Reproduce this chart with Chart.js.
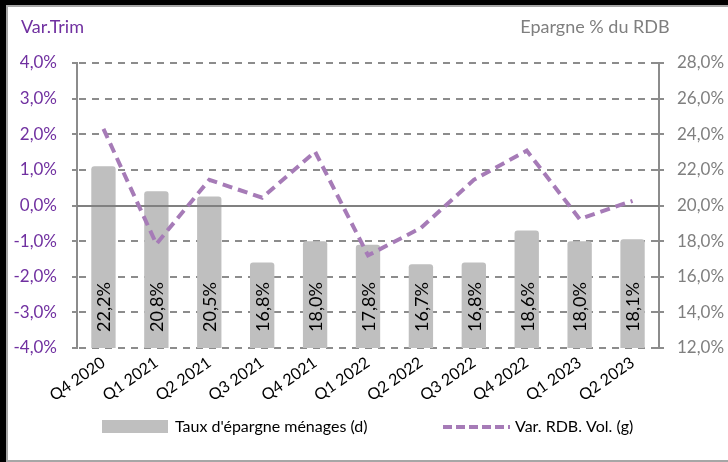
<!DOCTYPE html>
<html>
<head>
<meta charset="utf-8">
<script src="https://cdn.jsdelivr.net/npm/chart.js@4.4.1/dist/chart.umd.min.js"></script>
<style>
html, body { margin: 0; padding: 0; background: #fff; }
#wrap { position: relative; width: 728px; height: 462px; overflow: hidden; }
#frame { position: absolute; left: 0; top: 0; width: 728px; height: 462px; box-sizing: border-box;
         border-top: 5px solid #000; border-left: 6px solid #000; pointer-events: none; }
#frame div { position: absolute; left: 0; top: 0; right: -4px; bottom: 0;
             border-top: 2px solid #a6a6a6; border-left: 2px solid #a6a6a6; border-bottom: 2px solid #a6a6a6; }
canvas { position: absolute; left: 0; top: 0; }
</style>
</head>
<body>
<div id="wrap">
  <canvas id="chart" width="728" height="462"></canvas>
  <div id="frame"><div></div></div>
</div>
<script>
var quarters = ['Q4 2020', 'Q1 2021', 'Q2 2021', 'Q3 2021', 'Q4 2021', 'Q1 2022',
                'Q2 2022', 'Q3 2022', 'Q4 2022', 'Q1 2023', 'Q2 2023'];
var savingsRate = [22.2, 20.8, 20.5, 16.8, 18.0, 17.8, 16.7, 16.8, 18.6, 18.0, 18.1];
var rdbVolume = [2.15, -1.08, 0.72, 0.22, 1.51, -1.40, -0.63, 0.72, 1.54, -0.38, 0.13];

var leftTitle = 'Var.Trim';
var rightTitle = 'Epargne % du RDB';

var FONT = 'Lato';
var GRID = '#8c8c8c';

function pct(v) {
    return v.toFixed(1).replace('.', ',') + '%';
}

var plugins = [{
    id: 'extras',
    beforeDatasetsDraw: chart => {
        // dashed grid lines + outer tick marks, from the left axis ticks
        let ctx = chart.ctx;
        let yAxis = chart.scales.y;
        let area = chart.chartArea;
        ctx.save();
        ctx.lineWidth = 2;
        ctx.strokeStyle = GRID;
        ctx.lineCap = 'butt';
        yAxis.ticks.forEach((t, i) => {
            let y = Math.round(yAxis.getPixelForTick(i));
            ctx.setLineDash([]);
            ctx.beginPath();
            ctx.moveTo(area.left - 5, y);
            ctx.lineTo(area.left, y);
            ctx.moveTo(area.right, y);
            ctx.lineTo(area.right + 5, y);
            ctx.stroke();
            if (t.value === 0) return;
            ctx.setLineDash([7, 6]);
            ctx.beginPath();
            ctx.moveTo(area.left + 2, y);
            ctx.lineTo(area.right - 1, y);
            ctx.stroke();
        });
        ctx.restore();
    },
    beforeDatasetDraw: (chart, args) => {
        // solid zero line, over the bars but under the dashed line
        if (args.index !== 1) return;
        let ctx = chart.ctx;
        let y = Math.round(chart.scales.y.getPixelForValue(0));
        ctx.save();
        ctx.beginPath();
        ctx.moveTo(chart.chartArea.left, y);
        ctx.lineTo(chart.chartArea.right, y);
        ctx.lineWidth = 2;
        ctx.strokeStyle = '#808080';
        ctx.stroke();
        ctx.restore();
    },
    afterDatasetsDraw: chart => {
        // rotated value labels inside the bars
        let ctx = chart.ctx;
        let meta = chart.getDatasetMeta(0);
        let base = chart.scales.y1.getPixelForValue(12);
        ctx.save();
        ctx.font = '18px ' + FONT;
        ctx.fillStyle = '#000';
        ctx.textAlign = 'left';
        ctx.textBaseline = 'middle';
        meta.data.forEach((bar, i) => {
            let p = bar.getProps(['x'], true);
            ctx.save();
            ctx.translate(p.x + 1, base - 16);
            ctx.rotate(-Math.PI / 2);
            ctx.fillText(pct(savingsRate[i]), 0, 0);
            ctx.restore();
        });
        ctx.restore();
    },
    afterDraw: chart => {
        let ctx = chart.ctx;
        ctx.save();
        // axis titles
        ctx.font = '18px ' + FONT;
        ctx.textBaseline = 'alphabetic';
        ctx.fillStyle = '#7030A0';
        ctx.textAlign = 'left';
        ctx.fillText(leftTitle, 21, 33);
        ctx.fillStyle = '#7F7F7F';
        ctx.textAlign = 'center';
        ctx.fillText(rightTitle, 595, 33);

        // legend
        let ds = chart.data.datasets;
        let ly = 427;
        ctx.font = '16px ' + FONT;
        ctx.textAlign = 'left';
        ctx.textBaseline = 'middle';
        ctx.fillStyle = ds[0].backgroundColor;
        ctx.fillRect(102, ly - 7, 66, 13);
        ctx.fillStyle = '#000';
        ctx.fillText(ds[0].label, 175, ly);

        ctx.beginPath();
        ctx.setLineDash([9, 4]);
        ctx.moveTo(443, ly);
        ctx.lineTo(510, ly);
        ctx.lineWidth = ds[1].borderWidth;
        ctx.strokeStyle = ds[1].borderColor;
        ctx.stroke();
        ctx.setLineDash([]);
        ctx.fillText(ds[1].label, 515, ly);
        ctx.restore();
    }
}];

var options = {
    responsive: false,
    animation: false,
    devicePixelRatio: 1,
    layout: {
        padding: {top: 63, left: 0, right: 0, bottom: 0}
    },
    plugins: {
        legend: {display: false},
        tooltip: {enabled: false}
    },
    scales: {
        x: {
            type: 'category',
            offset: true,
            grid: {display: false, drawTicks: false},
            border: {display: false},
            ticks: {
                color: '#000',
                font: {family: FONT, size: 16},
                maxRotation: 35,
                minRotation: 35,
                padding: 5
            },
            afterFit: scale => { scale.height = 114; }
        },
        y: {
            position: 'left',
            min: -4,
            max: 4,
            ticks: {
                stepSize: 1,
                color: '#7030A0',
                font: {family: FONT, size: 17},
                padding: 20,
                callback: v => pct(v)
            },
            grid: {display: false, drawTicks: false},
            border: {display: true, color: GRID, width: 2},
            afterFit: scale => { scale.width = 77; }
        },
        y1: {
            position: 'right',
            min: 12,
            max: 28,
            ticks: {
                stepSize: 2,
                color: '#7F7F7F',
                font: {family: FONT, size: 17},
                padding: 18,
                callback: v => pct(v)
            },
            grid: {display: false, drawTicks: false},
            border: {display: true, color: GRID, width: 2},
            afterFit: scale => { scale.width = 69; }
        }
    }
};

new Chart(document.getElementById('chart'), {
    type: 'bar',
    options: options,
    plugins: plugins,
    data: {
        labels: quarters,
        datasets: [{
            type: 'bar',
            label: "Taux d'épargne ménages (d)",
            data: savingsRate,
            yAxisID: 'y1',
            backgroundColor: '#BFBFBF',
            borderWidth: 0,
            borderRadius: {topLeft: 3, topRight: 3},
            borderSkipped: 'bottom',
            categoryPercentage: 1,
            barPercentage: 0.46,
            order: 1
        }, {
            type: 'line',
            label: 'Var. RDB. Vol. (g)',
            data: rdbVolume,
            yAxisID: 'y',
            borderColor: '#A67BB7',
            borderWidth: 4,
            borderDash: [10, 6],
            borderCapStyle: 'butt',
            pointRadius: 0,
            fill: false,
            tension: 0,
            order: 0
        }]
    }
});
</script>
</body>
</html>
